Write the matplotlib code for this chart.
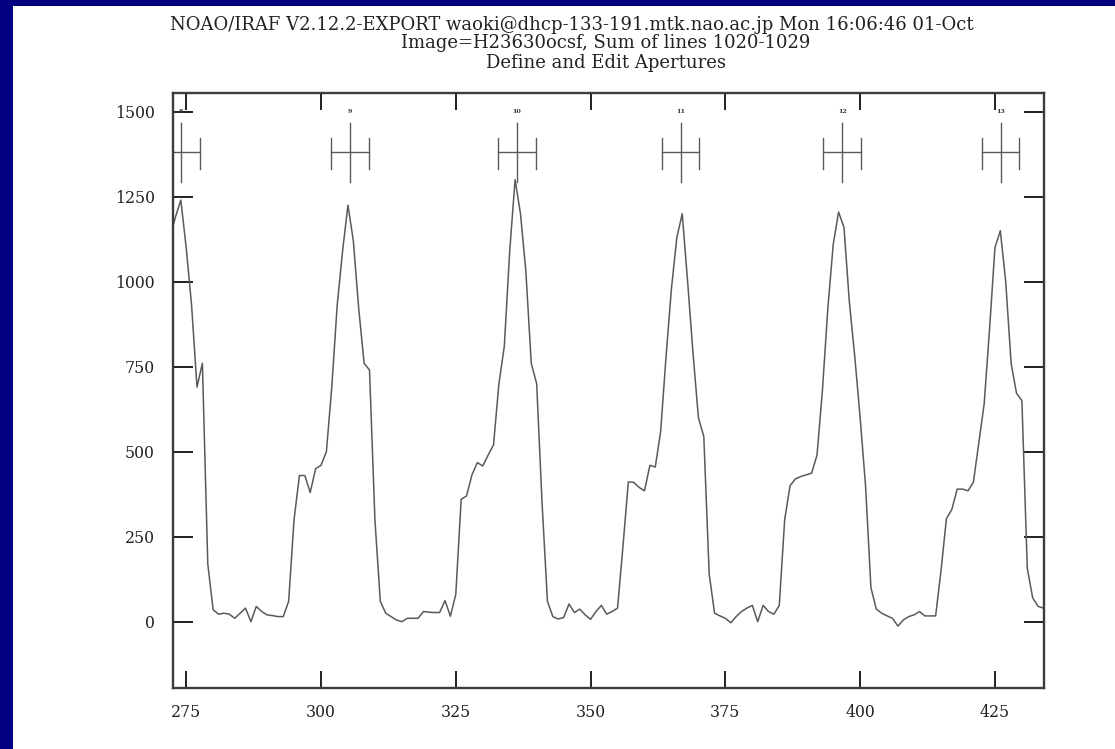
import numpy as np
import matplotlib.pyplot as plt
from matplotlib.patches import Rectangle

# spectrum cut: column (pixel) and summed counts
columns = list(range(272, 435))
counts = [1130, 1190, 1240, 1100, 930, 690, 760, 170, 35, 22,
          25, 22, 10, 25, 40, 0, 45, 30, 20, 18,
          15, 15, 60, 300, 430, 430, 380, 450, 460, 500,
          690, 930, 1090, 1225, 1120, 920, 760, 740, 300, 60,
          25, 15, 5, 0, 10, 10, 10, 30, 28, 27,
          27, 62, 16, 80, 360, 370, 432, 468, 458, 490,
          520, 700, 810, 1090, 1300, 1200, 1030, 760, 700, 350,
          60, 15, 8, 12, 52, 27, 37, 20, 7, 30,
          48, 22, 30, 40, 220, 411, 410, 395, 385, 460,
          455, 560, 780, 980, 1130, 1200, 1000, 790, 600, 545,
          140, 25, 17, 10, -3, 15, 30, 40, 48, 0,
          48, 30, 22, 48, 300, 400, 420, 427, 432, 437,
          490, 680, 920, 1109, 1205, 1160, 940, 780, 600, 400,
          100, 37, 25, 17, 10, -13, 5, 15, 20, 30,
          17, 17, 17, 150, 303, 330, 390, 390, 385, 410,
          525, 640, 860, 1100, 1150, 1000, 760, 672, 650, 157,
          70, 45, 40]

# apertures
ap_ids = ['8', '9', '10', '11', '12', '13']
ap_centers = [273.98, 305.4, 336.3, 366.7, 396.7, 426.05]
ap_half = 3.5

title_lines = ["NOAO/IRAF V2.12.2-EXPORT waoki@dhcp-133-191.mtk.nao.ac.jp Mon 16:06:46 01-Oct",
               "Image=H23630ocsf, Sum of lines 1020-1029",
               "Define and Edit Apertures"]

W, H = 1115, 749
fig = plt.figure(figsize=(W / 100, H / 100), dpi=100)
fig.patch.set_facecolor('white')

# navy frame bits
fig.add_artist(Rectangle((0, 1 - 6 / H), 1, 6 / H, transform=fig.transFigure,
                         color='#000080', lw=0))
fig.add_artist(Rectangle((0, 0), 13 / W, 1, transform=fig.transFigure,
                         color='#000080', lw=0))

ax = fig.add_axes([173 / W, 1 - 688 / H, (1044 - 173) / W, (688 - 93) / H])
ax.plot(columns, counts, color='#5a5a5a', lw=1.1)

gray = '#5a5a5a'
for lab, c in zip(ap_ids, ap_centers):
    ax.plot([c, c], [1294, 1466], color=gray, lw=1.0)
    ax.plot([c - ap_half, c + ap_half], [1382, 1382], color=gray, lw=1.0)
    ax.plot([c - ap_half, c - ap_half], [1331, 1422], color=gray, lw=1.0)
    ax.plot([c + ap_half, c + ap_half], [1331, 1422], color=gray, lw=1.0)
    ax.text(c, 1500, lab, ha='center', va='center', fontsize=4.5,
            family='DejaVu Serif', color='#333333', fontweight='bold')

ax.set_xlim(272.55, 434.1)
ax.set_ylim(-195, 1555)
ax.set_xticks([275, 300, 325, 350, 375, 400, 425])
ax.set_yticks([0, 250, 500, 750, 1000, 1250, 1500])

for s in ax.spines.values():
    s.set_linewidth(1.7)
    s.set_color('#3c3c3c')

ax.tick_params(axis='both', which='major', direction='in', top=True, right=True,
               width=1.4, color='#202020', labelsize=11.3, labelcolor='#222222')
ax.tick_params(axis='x', length=12, pad=11.5)
ax.tick_params(axis='y', length=14.4, pad=13)
for lab in ax.get_xticklabels() + ax.get_yticklabels():
    lab.set_family('DejaVu Serif')

title_x = [572, 606, 606]
title_base = [30, 48, 68]
for txt, tx, ty in zip(title_lines, title_x, title_base):
    fig.text(tx / W, 1 - ty / H, txt, ha='center', va='baseline',
             fontsize=13, family='DejaVu Serif', color='#222222')

fig.savefig('out.png', dpi=100)
